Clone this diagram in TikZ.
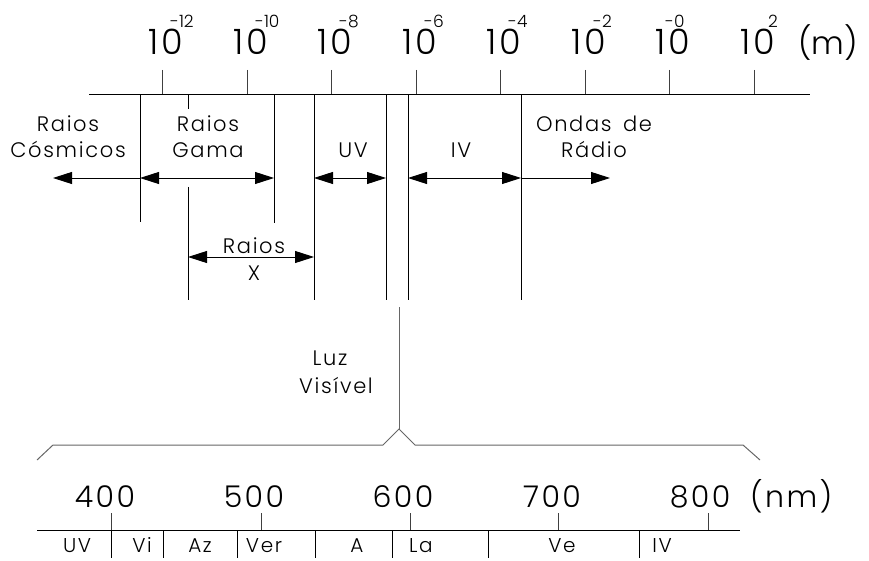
\documentclass[tikz,border=0pt]{standalone}
\usepackage{fontspec}
\IfFontExistsTF{Poppins Light}{%
  \setmainfont{Poppins Light}
  \newfontfamily\lblfont{Poppins Light}[LetterSpace=8]
}{%
  \setmainfont{Liberation Sans}
  \newfontfamily\lblfont{Liberation Sans}[LetterSpace=18]
}
\usetikzlibrary{arrows.meta}
\tikzset{
  txt/.style={inner sep=0pt, anchor=base},
  bignum/.style={txt, font=\lblfont\fontsize{35}{35}\selectfont},
  unitlbl/.style={inner sep=0pt, anchor=base west, font=\fontsize{32}{32}\selectfont},
  supnum/.style={inner sep=0pt, anchor=base west, font=\fontsize{17}{17}\selectfont},
  lbl/.style={txt, font=\lblfont\fontsize{21}{21}\selectfont},
  nmnum/.style={txt, font=\lblfont\fontsize{30}{30}\selectfont},
  band/.style={txt, font=\lblfont\fontsize{20}{20}\selectfont},
  ln/.style={line width=0.9pt, black},
  tk/.style={line width=0.9pt, black!75},
  brk/.style={line width=1pt, black!60},
  tip/.style={line width=0.9pt, black, -{Triangle[length=19pt,width=12pt]}},
  tips/.style={line width=0.9pt, black, {Triangle[length=19pt,width=12pt]}-{Triangle[length=19pt,width=12pt]}}
}
\begin{document}
\begin{tikzpicture}[x=1pt,y=-1pt]
\useasboundingbox (0,0) rectangle (869,561);
% ---------- top scale ----------
\coordinate (axL) at (89,94.5);
\coordinate (axR) at (810,94.5);
\draw[ln] (axL) -- (axR);
\foreach \x/\e/\s in {162/a/{-12},247/b/{-10},331/c/{-8},416/d/{-6},500/e/{-4},585/f/{-2}}{
  \coordinate (t\e) at (\x,70);
  \draw[tk] (t\e) -- (\x,94.5);
  \node[bignum] (n\e) at (\x+4,55) {10};
  \node[supnum] (s\e) at (\x+8,28) {\s};
}
\coordinate (tg) at (669,70);
\draw[tk] (tg) -- (669,94.5);
\node[bignum] (ng) at (673,55) {10};
\node[supnum] (sg) at (665,28) {-0};
\coordinate (th) at (754,70);
\draw[tk] (th) -- (754,94.5);
\node[bignum] (nh) at (758,55) {10};
\node[supnum] (sh) at (768,28) {2};
\node[unitlbl] (unitm) at (798,55) {(m)};
% vertical boundaries
\coordinate (v1a) at (140,94.5); \coordinate (v1b) at (140,222);
\coordinate (v2a) at (188,94.5); \coordinate (v2b) at (188,109);
\coordinate (v2c) at (188,187);  \coordinate (v2d) at (188,300);
\coordinate (v3a) at (274,94.5); \coordinate (v3b) at (274,223);
\coordinate (v4a) at (314,94.5); \coordinate (v4b) at (314,300);
\coordinate (v5a) at (386,94.5); \coordinate (v5b) at (386,300);
\coordinate (v6a) at (408,94.5); \coordinate (v6b) at (408,300);
\coordinate (v7a) at (521,94.5); \coordinate (v7b) at (521,300);
\draw[ln] (v1a) -- (v1b);
\draw[ln] (v2a) -- (v2b);
\draw[ln] (v2c) -- (v2d);
\draw[ln] (v3a) -- (v3b);
\draw[ln] (v4a) -- (v4b);
\draw[ln] (v5a) -- (v5b);
\draw[ln] (v6a) -- (v6b);
\draw[ln] (v7a) -- (v7b);
% arrows
\coordinate (cosTip) at (53,178);
\coordinate (a1) at (140,178);
\coordinate (a3) at (274,178);
\coordinate (a4) at (314,178);
\coordinate (a5) at (386,178);
\coordinate (a6) at (408,178);
\coordinate (a7) at (521,178);
\coordinate (radTip) at (610,178);
\coordinate (x1) at (188,257);
\coordinate (x2) at (314,257);
\draw[tip] (a1) -- (cosTip);
\draw[tips] (a1) -- (a3);
\draw[tips] (a4) -- (a5);
\draw[tips] (a6) -- (a7);
\draw[tip] (a7) -- (radTip);
\draw[tips] (x1) -- (x2);
% labels
\node[lbl] (cos1) at (68,132) {Raios};
\node[lbl] (cos2) at (68,158) {Cósmicos};
\node[lbl] (gam1) at (208,132) {Raios};
\node[lbl] (gam2) at (208,158) {Gama};
\node[lbl] (uv) at (353,158) {UV};
\node[lbl] (iv) at (461,158) {IV};
\node[lbl] (rad1) at (594,132) {Ondas\hspace{4pt} de};
\node[lbl] (rad2) at (594,158) {Rádio};
\node[lbl] (xr1) at (254,253) {Raios};
\node[lbl] (xr2) at (254,280) {X};
\node[lbl] (luz1) at (330,365) {Luz};
\node[lbl] (luz2) at (336,393) {Visível};
% visible light bracket
\coordinate (vlTop) at (399,307);
\coordinate (vlPeak) at (399,429);
\draw[brk] (vlTop) -- (vlPeak);
\coordinate (bL0) at (37,460);
\coordinate (bL1) at (53,445);
\coordinate (bL2) at (383,445);
\coordinate (bR2) at (415,445);
\coordinate (bR1) at (743,445);
\coordinate (bR0) at (760,460);
\draw[brk] (bL0) -- (bL1) -- (bL2) -- (vlPeak) -- (bR2) -- (bR1) -- (bR0);
% ---------- bottom scale ----------
\coordinate (bxL) at (37,530);
\coordinate (bxR) at (740,530);
\draw[ln] (bxL) -- (bxR);
\foreach \x/\c/\t in {111/105/400,261/254/500,410/403/600,558/552/700,708/700/800}{
  \draw[tk] (\x,513) -- (\x,530);
  \node[nmnum] (nm\t) at (\c,507) {\t};
}
\node[nmnum, anchor=base west] (unitnm) at (750,507) {(nm)};
\foreach \x in {111,163,237,315,392,488,639}{
  \draw[ln] (\x,530) -- (\x,558);
}
\node[band] (bUV) at (77,552) {UV};
\node[band] (bVi) at (142,552) {Vi};
\node[band] (bAz) at (200,552) {Az};
\node[band] (bVer) at (264,552) {Ver};
\node[band] (bA) at (357,552) {A};
\node[band] (bLa) at (421,552) {La};
\node[band] (bVe) at (562,552) {Ve};
\node[band] (bIV) at (662,552) {IV};
\end{tikzpicture}
\end{document}
